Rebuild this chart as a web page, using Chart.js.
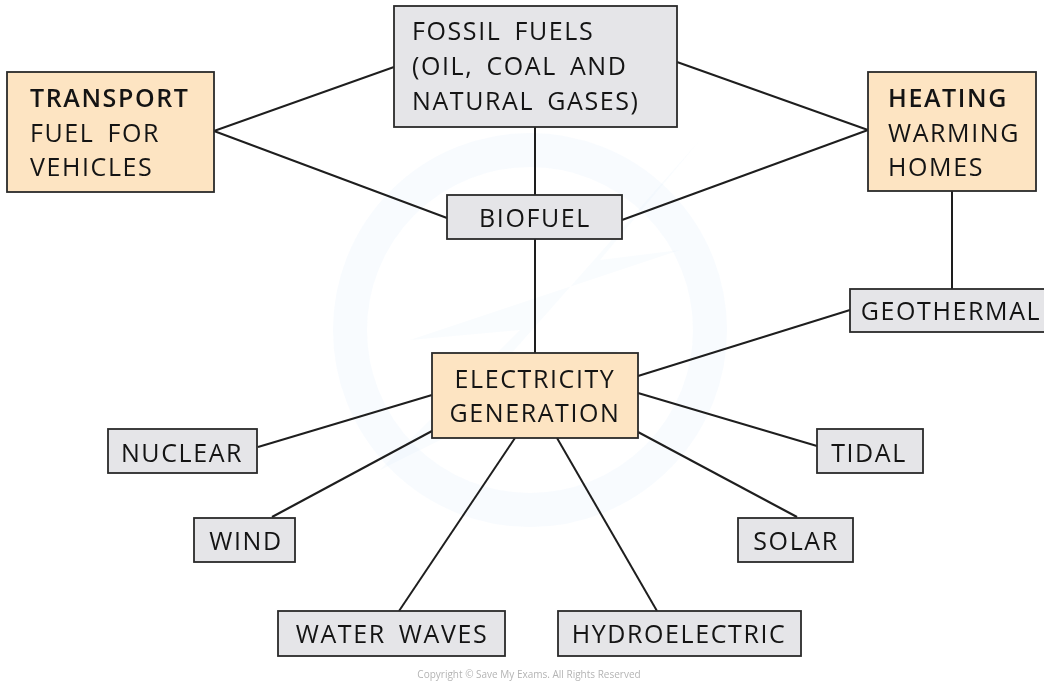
<!DOCTYPE html>
<html>
<head>
<meta charset="utf-8">
<script src="https://cdn.jsdelivr.net/npm/chart.js@4/dist/chart.umd.min.js"></script>
<style>
html,body{margin:0;padding:0;background:#fff;}
#wrap{width:1044px;height:683px;position:relative;}
</style>
</head>
<body>
<div id="wrap"><canvas id="c"></canvas></div>
<script>
// ---- diagram content ----
const nodeLabels = [
  ["TRANSPORT", "FUEL FOR", "VEHICLES"],
  ["FOSSIL FUELS", "(OIL, COAL AND", "NATURAL GASES)"],
  ["HEATING", "WARMING", "HOMES"],
  ["BIOFUEL"],
  ["GEOTHERMAL"],
  ["ELECTRICITY", "GENERATION"],
  ["NUCLEAR"],
  ["WIND"],
  ["WATER WAVES"],
  ["HYDROELECTRIC"],
  ["TIDAL"],
  ["SOLAR"]
];
const nodeKind = ["use","source","use","source","source","use","source","source","source","source","source","source"];
const boldFirstLine = [true,false,true,false,false,false,false,false,false,false,false,false];
const nodeLeft   = [7, 394, 868, 447, 850, 432, 108, 194, 278, 558, 817, 738];
const nodeRight  = [214, 677, 1036, 622, 1050, 638, 257, 295, 505, 801, 923, 853];
const nodeTop    = [72, 6, 72, 195, 289, 353, 429, 518, 611, 611, 429, 518];
const nodeBottom = [192, 127, 191, 239, 332, 438, 473, 562, 656, 656, 473, 562];
const textAlignMode = ["left","left","left","center","center","center","center","center","center","center","center","center"];
const textX      = [30, 412, 888, 535, 951, 535, 182, 246, 392, 679, 869, 796];
const textBaselines = [
  [107,142,176],[40,75,110],[107,142,176],[227],[320],[388,422],[462],[550],[643],[643],[462],[550]
];
// edges: [x1,y1,x2,y2]
const edgeFromX = [214, 214, 868, 868, 535, 535, 952, 850, 432, 432, 515, 557, 638, 638];
const edgeFromY = [131, 131, 130, 130, 127, 239, 191, 310, 395, 431, 438, 438, 393, 432];
const edgeToX   = [394, 447, 677, 622, 535, 535, 952, 638, 258, 272, 399, 657, 817, 797];
const edgeToY   = [ 67, 218,  62, 220, 195, 353, 289, 376, 447, 517, 611, 611, 446, 517];
const copyrightText = "Copyright \u00A9 Save My Exams. All Rights Reserved";

const FONT = '"Open Sans", "DejaVu Sans", sans-serif';

const datasets = edgeFromX.map((x, i) => ({
  data: [{x: x, y: edgeFromY[i]}, {x: edgeToX[i], y: edgeToY[i]}],
  showLine: true,
  borderColor: '#1e1e1e',
  borderWidth: 2,
  pointRadius: 0,
  fill: false
}));

const watermark = {
  id: 'watermark',
  beforeDatasetsDraw(chart) {
    const {ctx, scales: {x, y}} = chart;
    ctx.save();
    const cx = x.getPixelForValue(530), cy = y.getPixelForValue(330);
    const r = Math.abs(x.getPixelForValue(710) - x.getPixelForValue(530));
    ctx.strokeStyle = 'rgba(214,232,248,0.16)';
    ctx.lineWidth = 34;
    ctx.beginPath();
    ctx.arc(cx, cy, r, 0, Math.PI * 2);
    ctx.stroke();
    ctx.fillStyle = 'rgba(214,232,248,0.14)';
    const pts = [[700,140],[600,260],[680,250],[410,340],[520,330],[380,470],[620,350],[510,355]];
    ctx.beginPath();
    pts.forEach((p, i) => {
      const px = x.getPixelForValue(p[0]), py = y.getPixelForValue(p[1]);
      if (i === 0) ctx.moveTo(px, py); else ctx.lineTo(px, py);
    });
    ctx.closePath();
    ctx.fill();
    ctx.restore();
  }
};

const boxes = {
  id: 'boxes',
  afterDatasetsDraw(chart) {
    const {ctx, scales: {x, y}} = chart;
    ctx.save();
    nodeLabels.forEach((lines, i) => {
      const l = x.getPixelForValue(nodeLeft[i]);
      const r = x.getPixelForValue(nodeRight[i]);
      const t = y.getPixelForValue(nodeTop[i]);
      const b = y.getPixelForValue(nodeBottom[i]);
      ctx.fillStyle = nodeKind[i] === 'use' ? '#fde4c2' : '#e5e5e8';
      ctx.fillRect(l, t, r - l, b - t);
      ctx.strokeStyle = '#2a2a2a';
      ctx.lineWidth = 1.8;
      ctx.strokeRect(l, t, r - l, b - t);
      ctx.fillStyle = '#141414';
      ctx.textBaseline = 'alphabetic';
      ctx.textAlign = textAlignMode[i];
      lines.forEach((txt, j) => {
        const bold = boldFirstLine[i] && j === 0;
        ctx.font = (bold ? '600 ' : '400 ') + '25px ' + FONT;
        try { ctx.letterSpacing = '1.6px'; ctx.wordSpacing = '5px'; } catch (e) {}
        ctx.fillText(txt, x.getPixelForValue(textX[i]), y.getPixelForValue(textBaselines[i][j]));
      });
    });
    try { ctx.letterSpacing = '0px'; ctx.wordSpacing = '0px'; } catch (e) {}
    ctx.font = '10px ' + FONT;
    ctx.fillStyle = '#b4b4b4';
    ctx.textAlign = 'center';
    ctx.fillText(copyrightText, x.getPixelForValue(529), y.getPixelForValue(678));
    ctx.restore();
  }
};

new Chart(document.getElementById('c'), {
  type: 'scatter',
  data: { datasets },
  options: {
    responsive: true,
    maintainAspectRatio: false,
    animation: false,
    layout: { padding: 0 },
    plugins: { legend: { display: false }, tooltip: { enabled: false } },
    scales: {
      x: { type: 'linear', min: 0, max: 1044, display: false },
      y: { type: 'linear', min: 0, max: 683, reverse: true, display: false }
    },
    elements: { line: { tension: 0 } }
  },
  plugins: [watermark, boxes]
});
</script>
</body>
</html>
